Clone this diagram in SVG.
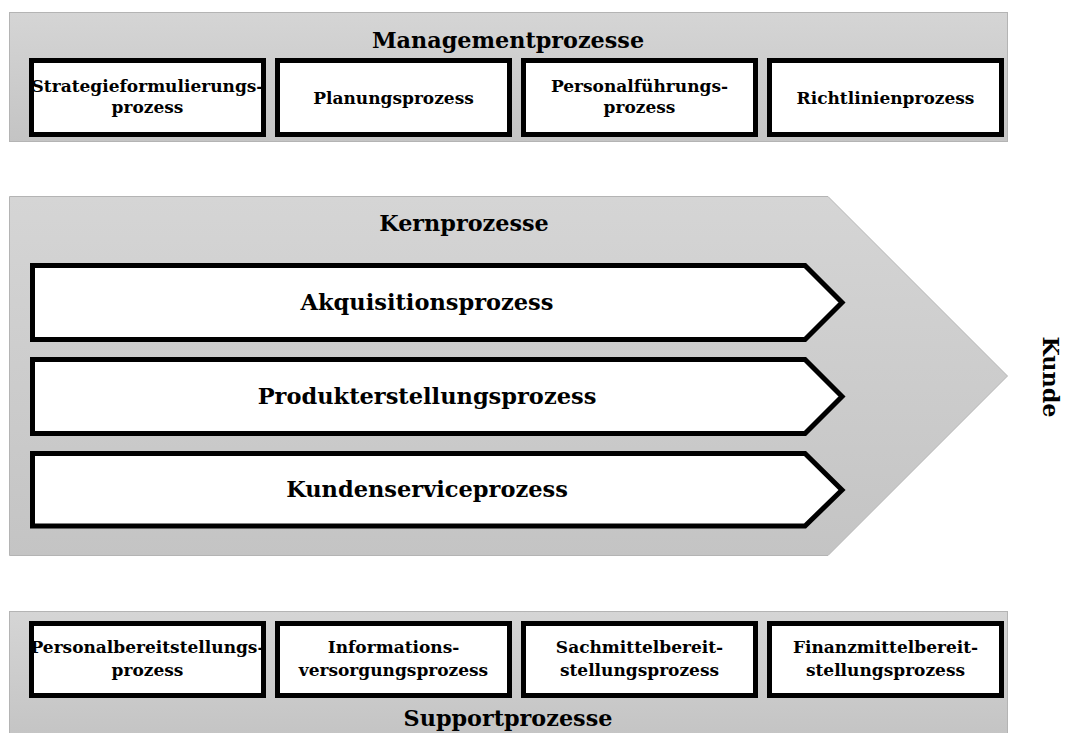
<svg xmlns="http://www.w3.org/2000/svg" width="1080" height="733" viewBox="0 0 1080 733">
  <defs>
    <linearGradient id="band" x1="0" y1="0" x2="0" y2="1">
      <stop offset="0" stop-color="#d5d5d5"/>
      <stop offset="1" stop-color="#c4c4c4"/>
    </linearGradient>
    <style>
      .band { fill: url(#band); stroke: #b4b4b4; stroke-width: 1; }
      .box { fill: #ffffff; stroke: #000000; stroke-width: 5; }
      .arrow { fill: #ffffff; stroke: #000000; stroke-width: 5; stroke-linejoin: miter; }
      text { font-family: "DejaVu Serif", "Liberation Serif", serif; font-weight: bold; fill: #000000; text-anchor: middle; }
      .title { font-size: 22.3px; }
      .label { font-size: 17px; }
      .core { font-size: 22.5px; }
    </style>
  </defs>
  <rect width="1080" height="733" fill="#ffffff"/>

  <!-- Management processes -->
  <g id="management">
    <rect class="band" x="9.5" y="12.5" width="998" height="129"/>
    <text class="title" x="508" y="48">Managementprozesse</text>
  </g>
  <g id="strategie">
    <rect class="box" x="31.5" y="60.5" width="232" height="74"/>
    <text class="label" x="147.5" y="92">Strategieformulierungs-</text>
    <text class="label" x="147.5" y="113">prozess</text>
  </g>
  <g id="planung">
    <rect class="box" x="277.5" y="60.5" width="232" height="74"/>
    <text class="label" x="393.5" y="104">Planungsprozess</text>
  </g>
  <g id="personalfuehrung">
    <rect class="box" x="523.5" y="60.5" width="232" height="74"/>
    <text class="label" x="639.5" y="92">Personalführungs-</text>
    <text class="label" x="639.5" y="113">prozess</text>
  </g>
  <g id="richtlinien">
    <rect class="box" x="769.5" y="60.5" width="232" height="74"/>
    <text class="label" x="885.5" y="104">Richtlinienprozess</text>
  </g>

  <!-- Core processes chevron -->
  <g id="kern">
    <path class="band" d="M9.5 196.5 H828 L1007.5 376 L828 555.5 H9.5 Z"/>
    <text class="title" x="464" y="231">Kernprozesse</text>
  </g>
  <g id="akquisition">
    <path class="arrow" d="M32.5 265.5 H805 L842 302.5 L805 339.5 H32.5 Z"/>
    <text class="core" x="427" y="310">Akquisitionsprozess</text>
  </g>
  <g id="produkterstellung">
    <path class="arrow" d="M32.5 359.5 H805 L842 396.5 L805 433.5 H32.5 Z"/>
    <text class="core" x="427" y="404">Produkterstellungsprozess</text>
  </g>
  <g id="kundenservice">
    <path class="arrow" d="M32.5 453.5 H805 L842 490 L805 526 H32.5 Z"/>
    <text class="core" x="427" y="497">Kundenserviceprozess</text>
  </g>

  <!-- Customer -->
  <g id="kunde">
    <text class="title" transform="translate(1043 377) rotate(90)" x="0" y="0">Kunde</text>
  </g>

  <!-- Support processes -->
  <g id="support">
    <rect class="band" x="9.5" y="611.5" width="998" height="125"/>
    <text class="title" x="508" y="726">Supportprozesse</text>
  </g>
  <g id="personalbereitstellung">
    <rect class="box" x="31.5" y="623.5" width="232" height="72"/>
    <text class="label" x="147.5" y="653">Personalbereitstellungs-</text>
    <text class="label" x="147.5" y="676">prozess</text>
  </g>
  <g id="informationsversorgung">
    <rect class="box" x="277.5" y="623.5" width="232" height="72"/>
    <text class="label" x="393.5" y="653">Informations-</text>
    <text class="label" x="393.5" y="676">versorgungsprozess</text>
  </g>
  <g id="sachmittel">
    <rect class="box" x="523.5" y="623.5" width="232" height="72"/>
    <text class="label" x="639.5" y="653">Sachmittelbereit-</text>
    <text class="label" x="639.5" y="676">stellungsprozess</text>
  </g>
  <g id="finanzmittel">
    <rect class="box" x="769.5" y="623.5" width="232" height="72"/>
    <text class="label" x="885.5" y="653">Finanzmittelbereit-</text>
    <text class="label" x="885.5" y="676">stellungsprozess</text>
  </g>

  <!-- No connectors between nodes; layout is banded -->
  <g id="connectors"/>
</svg>
